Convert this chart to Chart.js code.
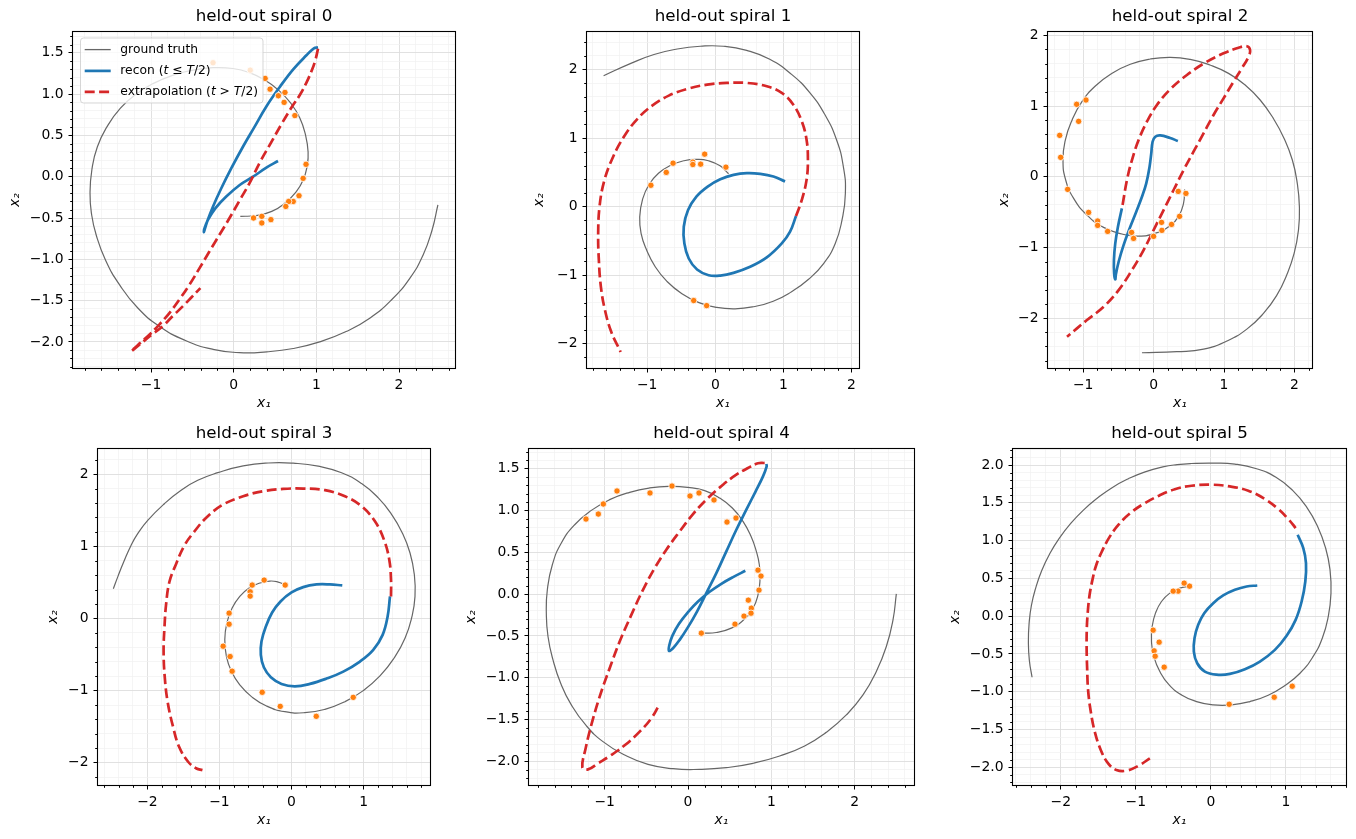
<!DOCTYPE html>
<html>
<head>
<meta charset="utf-8">
<script src="https://cdn.jsdelivr.net/npm/chart.js@4.4.1/dist/chart.umd.min.js"></script>
<style>
html, body { margin: 0; padding: 0; background: #fff; }
body { width: 1356px; height: 839px; position: relative; overflow: hidden; }
.panel { position: absolute; }
</style>
</head>
<body>
<script>
// ---- data, [x1, x2] pairs ----
const gt0 = [[0.08,-0.48],[0.27,-0.47],[0.46,-0.42],[0.62,-0.32],[0.75,-0.19],[0.84,-0.04],[0.89,0.14],[0.90,0.30],[0.87,0.50],[0.80,0.71],[0.69,0.89],[0.54,1.05],[0.375,1.17],[0.19,1.26],[-0.01,1.31],[-0.25,1.32],[-0.49,1.29],[-0.73,1.23],[-0.97,1.13],[-1.18,1.0],[-1.37,0.83],[-1.53,0.61],[-1.65,0.36],[-1.715,0.09],[-1.738,-0.20],[-1.72,-0.45],[-1.665,-0.70],[-1.55,-1.01],[-1.38,-1.31],[-1.16,-1.59],[-0.90,-1.81],[-0.59,-1.98],[-0.25,-2.09],[0.07,-2.13],[0.40,-2.12],[0.72,-2.08],[1.04,-2.00],[1.36,-1.875],[1.65,-1.71],[1.91,-1.49],[2.13,-1.23],[2.29,-0.95],[2.40,-0.645],[2.47,-0.34]];
const recon0 = [[0.536,0.19],[0.395,0.11],[0.234,0.0],[0.073,-0.10],[-0.09,-0.24],[-0.22,-0.38],[-0.31,-0.52],[-0.355,-0.63],[-0.36,-0.67],[-0.345,-0.62],[-0.32,-0.54],[-0.25,-0.36],[-0.15,-0.14],[-0.03,0.10],[0.11,0.36],[0.25,0.60],[0.395,0.85],[0.56,1.09],[0.72,1.30],[0.88,1.47],[0.97,1.555],[1.02,1.565]];
const extrap0 = [[1.02,1.55],[0.99,1.42],[0.95,1.30],[0.88,1.14],[0.80,0.99],[0.71,0.855],[0.58,0.64],[0.45,0.41],[0.32,0.18],[0.19,-0.08],[0.07,-0.29],[-0.052,-0.503],[-0.17,-0.70],[-0.294,-0.906],[-0.415,-1.11],[-0.536,-1.309],[-0.66,-1.49],[-0.778,-1.651],[-0.90,-1.79],[-1.02,-1.913],[-1.14,-2.02],[-1.242,-2.115],[-1.141,-2.034],[-1.0,-1.92],[-0.859,-1.81],[-0.74,-1.69],[-0.617,-1.57],[-0.51,-1.46],[-0.403,-1.349]];
const obs0 = [[-0.25,1.38],[0.20,1.29],[0.38,1.19],[0.44,1.06],[0.62,1.02],[0.54,0.98],[0.61,0.90],[0.74,0.74],[0.875,0.15],[0.84,-0.02],[0.79,-0.23],[0.72,-0.30],[0.665,-0.30],[0.63,-0.36],[0.34,-0.48],[0.24,-0.50],[0.45,-0.52],[0.34,-0.56]];

const gt1 = [[0.195,0.48],[0.07,0.595],[-0.10,0.67],[-0.27,0.69],[-0.46,0.67],[-0.66,0.60],[-0.83,0.49],[-0.975,0.32],[-1.07,0.10],[-1.11,-0.15],[-1.09,-0.39],[-1.01,-0.63],[-0.88,-0.88],[-0.71,-1.09],[-0.49,-1.27],[-0.24,-1.40],[0.02,-1.47],[0.29,-1.49],[0.56,-1.46],[0.85,-1.38],[1.12,-1.24],[1.37,-1.06],[1.59,-0.83],[1.76,-0.54],[1.86,-0.195],[1.91,0.195],[1.88,0.585],[1.78,0.976],[1.61,1.34],[1.39,1.66],[1.12,1.93],[0.80,2.15],[0.46,2.28],[0.12,2.34],[-0.22,2.34],[-0.56,2.30],[-0.90,2.22],[-1.24,2.09],[-1.64,1.91]];
const recon1 = [[1.024,0.366],[0.854,0.44],[0.66,0.478],[0.463,0.488],[0.268,0.463],[0.073,0.40],[-0.112,0.293],[-0.278,0.146],[-0.40,-0.05],[-0.463,-0.293],[-0.454,-0.537],[-0.39,-0.756],[-0.268,-0.917],[-0.098,-1.0],[0.073,-1.005],[0.268,-0.966],[0.512,-0.878],[0.756,-0.741],[0.976,-0.537],[1.098,-0.366],[1.185,-0.137]];
const extrap1 = [[1.185,-0.137],[1.27,0.098],[1.34,0.39],[1.36,0.683],[1.34,0.976],[1.27,1.244],[1.146,1.488],[0.976,1.66],[0.756,1.756],[0.463,1.805],[0.17,1.805],[-0.12,1.78],[-0.415,1.717],[-0.683,1.62],[-0.927,1.473],[-1.146,1.278],[-1.34,1.024],[-1.51,0.707],[-1.634,0.366],[-1.70,0.0],[-1.72,-0.39],[-1.71,-0.78],[-1.68,-1.17],[-1.62,-1.51],[-1.527,-1.83],[-1.39,-2.12]];
const obs1 = [[0.156,0.576],[-0.156,0.766],[-0.215,0.62],[-0.33,0.65],[-0.33,0.615],[-0.62,0.634],[-0.72,0.50],[-0.946,0.312],[-0.317,-1.37],[-0.127,-1.444]];

const gt2 = [[0.44,-0.18],[0.425,-0.377],[0.355,-0.557],[0.213,-0.708],[0.024,-0.80],[-0.213,-0.84],[-0.45,-0.81],[-0.71,-0.717],[-0.946,-0.542],[-1.135,-0.307],[-1.248,-0.047],[-1.286,0.236],[-1.253,0.519],[-1.158,0.80],[-1.017,1.061],[-0.827,1.283],[-0.59,1.462],[-0.331,1.59],[-0.047,1.665],[0.236,1.689],[0.52,1.66],[0.80,1.58],[1.064,1.462],[1.30,1.297],[1.513,1.085],[1.70,0.825],[1.853,0.542],[1.97,0.236],[2.04,-0.094],[2.07,-0.425],[2.057,-0.755],[1.995,-1.085],[1.89,-1.39],[1.75,-1.675],[1.56,-1.934],[1.324,-2.156],[1.04,-2.325],[0.71,-2.44],[0.33,-2.475],[-0.165,-2.49]];
const recon2 = [[0.345,0.505],[0.236,0.547],[0.095,0.585],[0.024,0.566],[-0.014,0.495],[-0.033,0.33],[-0.057,0.142],[-0.104,-0.094],[-0.165,-0.283],[-0.246,-0.495],[-0.34,-0.731],[-0.426,-0.967],[-0.496,-1.203],[-0.535,-1.38],[-0.544,-1.453],[-0.56,-1.37],[-0.563,-1.18],[-0.544,-0.943],[-0.506,-0.708],[-0.45,-0.448]];
const extrap2 = [[-0.44,-0.40],[-0.378,-0.047],[-0.307,0.236],[-0.213,0.519],[-0.095,0.778],[0.047,1.014],[0.236,1.236],[0.473,1.439],[0.733,1.613],[0.993,1.745],[1.206,1.825],[1.324,1.845],[1.37,1.792],[1.348,1.698],[1.253,1.533],[1.135,1.344],[0.993,1.108],[0.851,0.873],[0.709,0.613],[0.567,0.354],[0.426,0.094],[0.284,-0.189],[0.142,-0.472],[0.0,-0.755],[-0.142,-1.038],[-0.307,-1.321],[-0.496,-1.604],[-0.709,-1.84],[-0.946,-2.028],[-1.229,-2.264]];
const obs2 = [[-0.96,1.085],[-1.092,1.024],[-1.064,0.783],[-1.333,0.585],[-1.319,0.274],[-1.22,-0.179],[-0.922,-0.505],[-0.794,-0.627],[-0.794,-0.689],[-0.652,-0.774],[-0.312,-0.788],[-0.284,-0.873],[0.0,-0.844],[0.118,-0.759],[0.113,-0.646],[0.255,-0.675],[0.369,-0.561],[0.35,-0.208],[0.459,-0.236]];

const gt3 = [[-0.093,0.468],[-0.185,0.505],[-0.30,0.519],[-0.44,0.491],[-0.588,0.421],[-0.718,0.306],[-0.824,0.144],[-0.898,-0.065],[-0.926,-0.296],[-0.903,-0.528],[-0.833,-0.736],[-0.718,-0.921],[-0.556,-1.083],[-0.347,-1.213],[-0.093,-1.292],[0.185,-1.306],[0.463,-1.259],[0.741,-1.153],[0.995,-1.0],[1.227,-0.796],[1.421,-0.551],[1.574,-0.273],[1.671,0.028],[1.713,0.306],[1.704,0.606],[1.644,0.907],[1.537,1.185],[1.389,1.44],[1.204,1.671],[0.972,1.87],[0.694,2.019],[0.37,2.111],[0.023,2.152],[-0.324,2.155],[-0.671,2.115],[-1.023,2.021],[-1.301,1.915],[-1.532,1.776],[-1.764,1.591],[-1.995,1.36],[-2.134,1.175],[-2.227,1.013],[-2.329,0.782],[-2.407,0.587],[-2.472,0.412]];
const recon3 = [[0.704,0.458],[0.532,0.472],[0.347,0.472],[0.162,0.435],[0.0,0.361],[-0.153,0.236],[-0.269,0.083],[-0.356,-0.111],[-0.417,-0.319],[-0.426,-0.505],[-0.384,-0.676],[-0.287,-0.815],[-0.139,-0.907],[0.046,-0.94],[0.255,-0.907],[0.486,-0.833],[0.718,-0.736],[0.949,-0.597],[1.134,-0.435],[1.264,-0.227],[1.333,0.028],[1.366,0.306]];
const extrap3 = [[1.38,0.306],[1.38,0.537],[1.356,0.815],[1.282,1.093],[1.157,1.347],[0.972,1.556],[0.741,1.694],[0.463,1.778],[0.162,1.801],[-0.116,1.796],[-0.394,1.764],[-0.671,1.694],[-0.949,1.579],[-1.18,1.40],[-1.36,1.19],[-1.486,1.012],[-1.60,0.76],[-1.694,0.509],[-1.74,0.2],[-1.764,-0.143],[-1.775,-0.45],[-1.76,-0.80],[-1.72,-1.15],[-1.644,-1.5],[-1.56,-1.778],[-1.435,-1.986],[-1.319,-2.079],[-1.236,-2.102]];
const obs3 = [[-0.088,0.463],[-0.38,0.532],[-0.546,0.463],[-0.574,0.37],[-0.574,0.31],[-0.866,0.074],[-0.866,-0.079],[-0.949,-0.384],[-0.852,-0.528],[-0.824,-0.731],[-0.407,-1.023],[-0.157,-1.218],[0.343,-1.356],[0.856,-1.093]];

const gt4 = [[0.16,-0.467],[0.34,-0.459],[0.52,-0.407],[0.668,-0.307],[0.78,-0.168],[0.84,-0.008],[0.864,0.172],[0.856,0.351],[0.82,0.511],[0.756,0.691],[0.66,0.87],[0.532,1.03],[0.38,1.15],[0.2,1.238],[0.0,1.277],[-0.22,1.289],[-0.46,1.27],[-0.70,1.218],[-0.94,1.13],[-1.16,1.002],[-1.36,0.83],[-1.52,0.611],[-1.628,0.351],[-1.688,0.052],[-1.70,-0.228],[-1.68,-0.507],[-1.62,-0.786],[-1.528,-1.066],[-1.40,-1.325],[-1.228,-1.565],[-1.02,-1.764],[-0.76,-1.924],[-0.48,-2.036],[-0.18,-2.088],[0.14,-2.096],[0.46,-2.076],[0.78,-2.024],[1.10,-1.936],[1.40,-1.816],[1.66,-1.653],[1.90,-1.445],[2.10,-1.206],[2.26,-0.926],[2.38,-0.627],[2.46,-0.307],[2.50,0.004]];
const recon4 = [[0.688,0.279],[0.54,0.204],[0.40,0.124],[0.26,0.028],[0.12,-0.088],[0.0,-0.216],[-0.108,-0.355],[-0.188,-0.499],[-0.225,-0.615],[-0.228,-0.679],[-0.18,-0.647],[-0.10,-0.547],[0.0,-0.395],[0.108,-0.208],[0.22,0.012],[0.34,0.251],[0.46,0.511],[0.58,0.77],[0.70,1.01],[0.812,1.23],[0.90,1.409],[0.944,1.529],[0.94,1.557]];
const extrap4 = [[0.92,1.569],[0.84,1.565],[0.72,1.509],[0.58,1.429],[0.42,1.309],[0.24,1.15],[0.06,0.958],[-0.10,0.75],[-0.26,0.531],[-0.40,0.311],[-0.54,0.052],[-0.68,-0.248],[-0.82,-0.567],[-0.94,-0.886],[-1.06,-1.226],[-1.16,-1.565],[-1.228,-1.844],[-1.268,-2.076],[-1.20,-2.096],[-1.08,-2.024],[-0.92,-1.924],[-0.74,-1.792],[-0.58,-1.645],[-0.44,-1.485],[-0.34,-1.313]];
const obs4 = [[-1.224,0.898],[-1.076,0.958],[-1.016,1.078],[-0.852,1.234],[-0.456,1.21],[-0.192,1.293],[0.024,1.174],[0.132,1.21],[0.312,1.126],[0.468,0.862],[0.576,0.91],[0.84,0.287],[0.876,0.216],[0.852,0.048],[0.724,-0.072],[0.76,-0.168],[0.756,-0.228],[0.672,-0.263],[0.564,-0.359],[0.16,-0.467]];

const gt5 = [[-0.289,0.393],[-0.413,0.371],[-0.547,0.305],[-0.658,0.194],[-0.738,0.04],[-0.782,-0.137],[-0.791,-0.336],[-0.76,-0.534],[-0.68,-0.733],[-0.556,-0.909],[-0.391,-1.042],[-0.191,-1.13],[0.031,-1.174],[0.276,-1.174],[0.52,-1.13],[0.764,-1.046],[0.987,-0.918],[1.187,-0.755],[1.356,-0.543],[1.484,-0.291],[1.564,-0.004],[1.60,0.305],[1.587,0.614],[1.529,0.90],[1.422,1.188],[1.276,1.444],[1.089,1.664],[0.867,1.837],[0.609,1.951],[0.32,2.013],[0.031,2.026],[-0.258,2.02],[-0.45,2.005],[-0.64,1.975],[-0.876,1.91],[-1.098,1.819],[-1.311,1.704],[-1.511,1.563],[-1.698,1.404],[-1.867,1.227],[-2.018,1.033],[-2.147,0.826],[-2.253,0.605],[-2.333,0.375],[-2.391,0.141],[-2.422,-0.102],[-2.431,-0.344],[-2.418,-0.587],[-2.382,-0.808]];
const recon5 = [[0.618,0.406],[0.476,0.393],[0.32,0.349],[0.164,0.274],[0.031,0.172],[-0.089,0.04],[-0.169,-0.115],[-0.218,-0.291],[-0.227,-0.468],[-0.182,-0.623],[-0.08,-0.733],[0.076,-0.773],[0.253,-0.764],[0.453,-0.702],[0.653,-0.60],[0.853,-0.446],[1.009,-0.26],[1.129,-0.049],[1.209,0.194],[1.258,0.459],[1.267,0.702],[1.231,0.90],[1.156,1.077]];
const extrap5 = [[1.129,1.166],[1.031,1.285],[0.898,1.417],[0.72,1.55],[0.498,1.66],[0.253,1.717],[0.0,1.74],[-0.258,1.726],[-0.48,1.68],[-0.684,1.598],[-0.89,1.49],[-1.084,1.355],[-1.23,1.21],[-1.351,1.046],[-1.45,0.86],[-1.529,0.671],[-1.58,0.47],[-1.617,0.273],[-1.64,0.05],[-1.653,-0.168],[-1.655,-0.45],[-1.648,-0.70],[-1.636,-0.976],[-1.60,-1.263],[-1.547,-1.528],[-1.467,-1.77],[-1.369,-1.947],[-1.258,-2.035],[-1.124,-2.044],[-0.969,-1.982],[-0.813,-1.881]];
const obs5 = [[-0.284,0.397],[-0.356,0.437],[-0.436,0.331],[-0.502,0.331],[-0.769,-0.185],[-0.689,-0.344],[-0.756,-0.459],[-0.742,-0.53],[-0.622,-0.675],[0.244,-1.166],[0.844,-1.073],[1.084,-0.927]];

const groundTruth = [gt0, gt1, gt2, gt3, gt4, gt5];
const recons = [recon0, recon1, recon2, recon3, recon4, recon5];
const extraps = [extrap0, extrap1, extrap2, extrap3, extrap4, extrap5];
const observations = [obs0, obs1, obs2, obs3, obs4, obs5];

const titles = ['held-out spiral 0', 'held-out spiral 1', 'held-out spiral 2',
                'held-out spiral 3', 'held-out spiral 4', 'held-out spiral 5'];
const xLimits = [[-1.944, 2.677], [-1.884, 2.110], [-1.499, 2.249], [-2.685, 1.921], [-1.908, 2.712], [-2.636, 1.800]];
const yLimits = [[-2.316, 1.752], [-2.354, 2.548], [-2.706, 2.047], [-2.308, 2.349], [-2.283, 1.736], [-2.234, 2.212]];
const xMajorTicks = [[-1, 0, 1, 2], [-1, 0, 1, 2], [-1, 0, 1, 2], [-2, -1, 0, 1], [-1, 0, 1, 2], [-2, -1, 0, 1]];
const yMajorTicks = [[-2, -1.5, -1, -0.5, 0, 0.5, 1, 1.5], [-2, -1, 0, 1, 2], [-2, -1, 0, 1, 2],
                     [-2, -1, 0, 1, 2], [-2, -1.5, -1, -0.5, 0, 0.5, 1, 1.5], [-2, -1.5, -1, -0.5, 0, 0.5, 1, 1.5, 2]];
const xMinorStep = [0.2, 0.2, 0.2, 0.2, 0.2, 0.2];
const yMinorStep = [0.1, 0.2, 0.2, 0.2, 0.1, 0.1];
const yDecimals = [1, 0, 0, 0, 1, 1];
const legendLabels = ['ground truth', 'recon', 'extrapolation'];

// ---- layout (page px): axes box [left, top, right, bottom] and y-label distance ----
const axesBoxes = [[73, 32, 455, 368], [587, 32, 859, 368], [1048, 32, 1312, 368],
                   [98, 449, 430, 785], [529, 449, 914, 785], [1013, 449, 1346, 785]];
const yLabelGap = [58, 48, 44, 45, 58, 58];
const PAD_L = 70, PAD_T = 32, PAD_R = 10, PAD_B = 50;

const FONT = 'DejaVu Sans';
const GT_COLOR = '#666666', RECON_COLOR = '#1f77b4', EXTRAP_COLOR = '#d62728', OBS_COLOR = '#ff7f0e';

function toXY(pairs) {
    return pairs.map(p => ({x: p[0], y: p[1]}));
}

function buildTicks(limits, majors, step) {
    const ticks = [];
    const start = Math.ceil(limits[0] / step - 1e-9);
    const end = Math.floor(limits[1] / step + 1e-9);
    for (let k = start; k <= end; k++) {
        const v = +(k * step).toFixed(6);
        const isMajor = majors.some(m => Math.abs(m - v) < 1e-6);
        ticks.push({value: v, minor: !isMajor});
    }
    return ticks;
}

function fmt(v, d) {
    return v.toFixed(d).replace('-', '\u2212');
}

// spines on all four sides + the short minor tick marks
const framePlugin = {
    id: 'frame',
    afterDraw(chart) {
        const {ctx, chartArea: a, scales} = chart;
        ctx.save();
        ctx.strokeStyle = '#000';
        ctx.lineWidth = 1;
        ctx.beginPath();
        scales.x.ticks.forEach(t => {
            if (!t.minor) return;
            const px = Math.round(scales.x.getPixelForValue(t.value)) + 0.5;
            ctx.moveTo(px, a.bottom);
            ctx.lineTo(px, a.bottom + 2.8);
        });
        scales.y.ticks.forEach(t => {
            if (!t.minor) return;
            const py = Math.round(scales.y.getPixelForValue(t.value)) + 0.5;
            ctx.moveTo(a.left, py);
            ctx.lineTo(a.left - 2.8, py);
        });
        ctx.stroke();
        ctx.lineWidth = 1.1;
        ctx.strokeRect(a.left - 0.5, a.top - 0.5, a.right - a.left + 1, a.bottom - a.top + 1);
        ctx.restore();
    }
};

// matplotlib style legend box inside the first panel
const legendPlugin = {
    id: 'boxLegend',
    afterDraw(chart) {
        if (!chart.options.plugins.boxLegend || !chart.options.plugins.boxLegend.show) return;
        const {ctx, chartArea: a} = chart;
        const x0 = a.left + 7, y0 = a.top + 5.5, w = 182.5, h = 65;
        ctx.save();
        ctx.beginPath();
        ctx.roundRect(x0 + 0.5, y0 + 0.5, w, h, 3);
        ctx.fillStyle = 'rgba(255,255,255,0.8)';
        ctx.fill();
        ctx.strokeStyle = 'rgba(204,204,204,0.8)';
        ctx.lineWidth = 1;
        ctx.stroke();

        const rows = [a.top + 17.6, a.top + 38.9, a.top + 59.8];
        const styles = [
            {color: GT_COLOR, width: 1.3, dash: []},
            {color: RECON_COLOR, width: 2.7, dash: []},
            {color: EXTRAP_COLOR, width: 2.7, dash: [10, 4.4]}
        ];
        const texts = [
            [[legendLabels[0], false]],
            [[legendLabels[1] + ' (', false], ['t', true], [' \u2264 ', false], ['T', true], ['/2)', false]],
            [[legendLabels[2] + ' (', false], ['t', true], [' > ', false], ['T', true], ['/2)', false]]
        ];
        rows.forEach((y, i) => {
            const s = styles[i];
            ctx.beginPath();
            ctx.setLineDash(s.dash);
            ctx.strokeStyle = s.color;
            ctx.lineWidth = s.width;
            ctx.moveTo(a.left + 11.7, y);
            ctx.lineTo(a.left + 37.7, y);
            ctx.stroke();
            ctx.setLineDash([]);
            let tx = a.left + 47.3;
            ctx.fillStyle = '#000';
            ctx.textBaseline = 'middle';
            ctx.textAlign = 'left';
            texts[i].forEach(seg => {
                ctx.font = (seg[1] ? 'italic ' : '') + '12.3px "' + FONT + '"';
                ctx.fillText(seg[0], tx, y);
                tx += ctx.measureText(seg[0]).width;
            });
        });
        ctx.restore();
    }
};

function makePanel(i) {
    const box = axesBoxes[i];
    const div = document.createElement('div');
    div.className = 'panel';
    div.style.left = (box[0] - PAD_L) + 'px';
    div.style.top = (box[1] - PAD_T) + 'px';
    div.style.width = (box[2] - box[0] + PAD_L + PAD_R) + 'px';
    div.style.height = (box[3] - box[1] + PAD_T + PAD_B) + 'px';
    const canvas = document.createElement('canvas');
    div.appendChild(canvas);
    document.body.appendChild(div);

    const xTicks = buildTicks(xLimits[i], xMajorTicks[i], xMinorStep[i]);
    const yTicks = buildTicks(yLimits[i], yMajorTicks[i], yMinorStep[i]);

    const gridColor = c => (c.tick && c.tick.minor) ? '#f1f1f1' : '#dedede';
    const gridWidth = c => (c.tick && c.tick.minor) ? 0.7 : 0.9;
    const tickColor = c => (c.tick && c.tick.minor) ? 'rgba(0,0,0,0)' : '#000';

    new Chart(canvas, {
        type: 'scatter',
        data: {
            datasets: [
                {
                    label: 'observations',
                    data: toXY(observations[i]),
                    pointRadius: 3.2,
                    pointHoverRadius: 3.2,
                    pointBackgroundColor: OBS_COLOR,
                    pointBorderColor: '#ffffff',
                    pointBorderWidth: 0.8,
                    order: 0
                },
                {
                    label: legendLabels[2],
                    data: toXY(extraps[i]),
                    showLine: true,
                    pointRadius: 0,
                    borderColor: EXTRAP_COLOR,
                    borderWidth: 2.7,
                    borderDash: [10, 4.4],
                    tension: 0.4,
                    order: 1
                },
                {
                    label: legendLabels[1],
                    data: toXY(recons[i]),
                    showLine: true,
                    pointRadius: 0,
                    borderColor: RECON_COLOR,
                    borderWidth: 2.7,
                    borderJoinStyle: 'round',
                    tension: 0.4,
                    order: 2
                },
                {
                    label: legendLabels[0],
                    data: toXY(groundTruth[i]),
                    showLine: true,
                    pointRadius: 0,
                    borderColor: GT_COLOR,
                    borderWidth: 1.2,
                    tension: 0.5,
                    order: 3
                }
            ]
        },
        options: {
            animation: false,
            responsive: true,
            maintainAspectRatio: false,
            devicePixelRatio: 1,
            events: [],
            layout: {padding: {left: 0, top: 0, right: PAD_R, bottom: 0}},
            plugins: {
                legend: {display: false},
                tooltip: {enabled: false},
                boxLegend: {show: i === 0},
                title: {
                    display: true,
                    text: titles[i],
                    fullSize: false,
                    color: '#000',
                    font: {family: FONT, size: 16.7, weight: 'normal', lineHeight: 1.2},
                    padding: {top: 7, bottom: 4.96}
                }
            },
            scales: {
                x: {
                    type: 'linear',
                    position: 'bottom',
                    bounds: 'data',
                    min: xLimits[i][0],
                    max: xLimits[i][1],
                    afterBuildTicks: s => { s.ticks = xTicks.map(t => ({...t})); },
                    afterFit: s => { s.height = PAD_B; },
                    ticks: {
                        autoSkip: false,
                        maxRotation: 0,
                        padding: 5,
                        color: '#000',
                        font: {family: FONT, size: 13.9},
                        callback: (v, idx, ticks) => ticks[idx].minor ? '' : fmt(v, 0)
                    },
                    grid: {color: gridColor, lineWidth: gridWidth, tickLength: 4.5, tickColor: tickColor, tickWidth: 1},
                    border: {display: false},
                    title: {
                        display: true,
                        text: 'x\u2081',
                        color: '#000',
                        font: {family: FONT, size: 13.9, style: 'italic'},
                        padding: {top: 0, bottom: 6}
                    }
                },
                y: {
                    type: 'linear',
                    position: 'left',
                    bounds: 'data',
                    min: yLimits[i][0],
                    max: yLimits[i][1],
                    afterBuildTicks: s => { s.ticks = yTicks.map(t => ({...t})); },
                    afterFit: s => { s.width = PAD_L; },
                    ticks: {
                        autoSkip: false,
                        padding: 5,
                        color: '#000',
                        font: {family: FONT, size: 13.9},
                        callback: (v, idx, ticks) => ticks[idx].minor ? '' : fmt(v, yDecimals[i])
                    },
                    grid: {color: gridColor, lineWidth: gridWidth, tickLength: 4.5, tickColor: tickColor, tickWidth: 1},
                    border: {display: false},
                    title: {
                        display: true,
                        text: 'x\u2082',
                        color: '#000',
                        font: {family: FONT, size: 13.9, style: 'italic'},
                        padding: {top: PAD_L - yLabelGap[i] - 8.34, bottom: 0}
                    }
                }
            }
        },
        plugins: [framePlugin, legendPlugin]
    });
}

for (let i = 0; i < 6; i++) makePanel(i);
</script>
</body>
</html>
